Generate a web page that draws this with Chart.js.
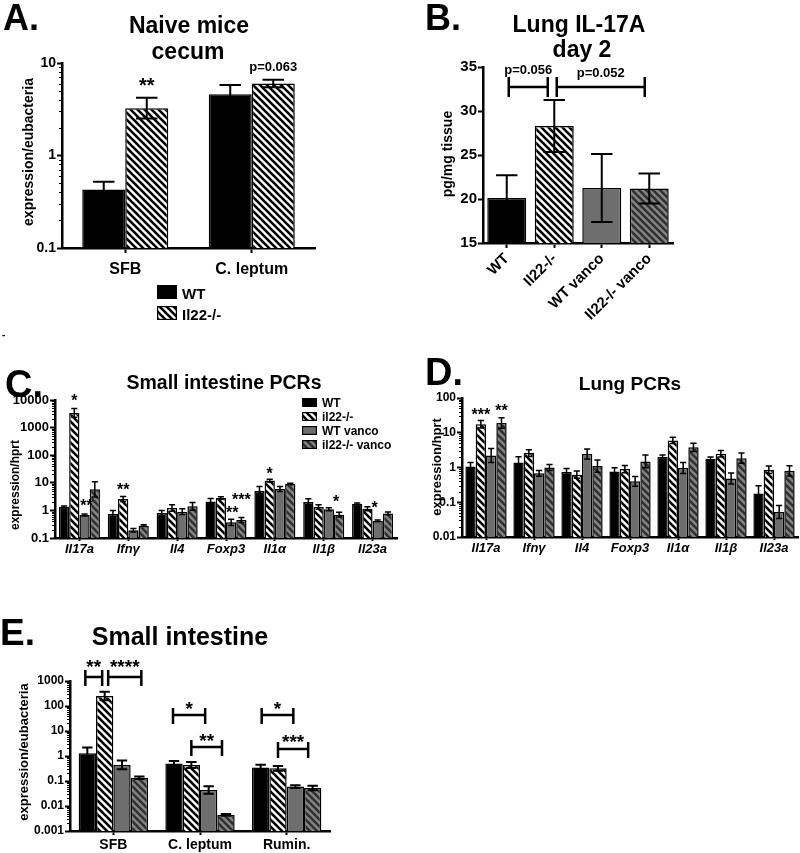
<!DOCTYPE html>
<html>
<head>
<meta charset="utf-8">
<script src="https://cdn.jsdelivr.net/npm/chart.js@4.4.1/dist/chart.umd.min.js"></script>
<style>
  body { margin: 0; background: #fff; width: 800px; height: 853px; position: relative; overflow: hidden; font-family: 'Liberation Sans', Arial, sans-serif; }
  canvas { position: absolute; }
  .t { position: absolute; font-weight: bold; white-space: nowrap; color: #000; }
</style>
</head>
<body>
<canvas id="chartA" width="400" height="330" style="left:0;top:0"></canvas>
<canvas id="chartB" width="400" height="330" style="left:400px;top:0"></canvas>
<canvas id="chartC" width="400" height="240" style="left:0;top:330px"></canvas>
<canvas id="chartD" width="400" height="240" style="left:400px;top:330px"></canvas>
<canvas id="chartE" width="400" height="283" style="left:0;top:570px"></canvas>
<script>
// ---- data ----
// A: naive mice cecum
const categoriesA = ["SFB", "C. leptum"];
const seriesA = ["WT", "Il22-/-"];
const wtA = [0.43, 4.6];
const wtErrA = [0.52, 5.8];
const il22A = [3.25, 6.0];
const il22ErrA = [4.2, 6.6];
const yTicksA = [0.1, 1, 10];

// B: lung IL-17A day 2
const groupsB = ["WT", "Il22-/-", "WT vanco", "Il22-/- vanco"];
const meanB = [20.1, 28.3, 21.25, 21.2];
const errB = [22.7, 31.25, 25.1, 22.9];
const yTicksB = [15, 20, 25, 30, 35];

// C and D: PCRs
const genes = ["Il17a", "Ifnγ", "Il4", "Foxp3", "Il1α", "Il1β", "Il23a"];
const seriesC = ["WT", "il22-/-", "WT vanco", "il22-/- vanco"];
const wtC = [1.35, 0.74, 0.8, 2.1, 5.2, 2.0, 1.7];
const wtErrC = [1.45, 1.0, 1.0, 2.7, 7.4, 2.65, 1.85];
const il22C = [3400, 2.6, 1.22, 2.8, 12, 1.33, 1.15];
const il22ErrC = [4900, 3.2, 1.6, 3.1, 13.5, 1.6, 1.35];
const wtvC = [0.68, 0.19, 0.9, 0.37, 6.0, 1.1, 0.42];
const wtvErrC = [0.74, 0.22, 1.15, 0.48, 7.4, 1.25, 0.45];
const il22vC = [5.8, 0.28, 1.4, 0.45, 9.0, 0.7, 0.78];
const il22vErrC = [11, 0.3, 1.95, 0.55, 9.6, 0.85, 0.88];
const yTicksC = [0.1, 1, 10, 100, 1000, 10000];

const wtD = [1.07, 1.4, 0.74, 0.77, 2.0, 1.8, 0.18];
const wtErrD = [1.4, 2.05, 0.93, 0.98, 2.3, 2.0, 0.3];
const il22D = [17.5, 2.6, 0.62, 0.9, 6.0, 2.5, 0.86];
const il22ErrD = [22.5, 3.25, 0.79, 1.15, 7.4, 3.1, 1.1];
const wtvD = [2.2, 0.68, 2.45, 0.4, 0.97, 0.48, 0.052];
const wtvErrD = [3.5, 0.82, 3.4, 0.55, 1.4, 0.69, 0.08];
const il22vD = [19, 1.0, 1.1, 1.5, 3.8, 1.85, 0.8];
const il22vErrD = [27, 1.23, 1.65, 2.3, 5.0, 2.6, 1.12];
const yTicksD = [0.01, 0.1, 1, 10, 100];

// E: small intestine bacteria
const bacteriaE = ["SFB", "C. leptum", "Rumin."];
const wtE = [1.3, 0.5, 0.35];
const wtErrE = [2.2, 0.63, 0.45];
const il22E = [250, 0.44, 0.32];
const il22ErrE = [370, 0.58, 0.40];
const wtvE = [0.44, 0.044, 0.06];
const wtvErrE = [0.66, 0.062, 0.068];
const il22vE = [0.135, 0.0044, 0.052];
const il22vErrE = [0.152, 0.0048, 0.064];
const yTicksE = [0.001, 0.01, 0.1, 1, 10, 100, 1000];

// ---- styles ----
const FONT = "'Liberation Sans', Arial, sans-serif";
Chart.defaults.font.family = FONT;
Chart.defaults.color = "#000";
Chart.defaults.animation = false;

function hatch(bg, fg, step, lw) {
  const c = document.createElement("canvas");
  c.width = step; c.height = step;
  const x = c.getContext("2d");
  x.fillStyle = bg; x.fillRect(0, 0, step, step);
  x.strokeStyle = fg; x.lineWidth = lw;
  for (const o of [-step, 0, step]) {
    x.beginPath(); x.moveTo(o - 1, -1); x.lineTo(o + step + 1, step + 1); x.stroke();
  }
  return x.createPattern(c, "repeat");
}
const BLACK = "#000";
const GRAY = "#6e6e6e";
const HATCH = hatch("#fff", "#000", 7, 2.6);
const HATCH_GRAY = hatch("#858585", "#303030", 7, 2.6);

// ---- plugins ----
const errorBars = {
  id: "errorBars",
  afterDatasetsDraw(chart, args, opts) {
    const ctx = chart.ctx, y = chart.scales.y;
    const isLog = y.type === "logarithmic";
    ctx.save();
    ctx.strokeStyle = "#000";
    ctx.lineWidth = opts.width || 1.5;
    chart.data.datasets.forEach((ds, i) => {
      if (!ds.errHi) return;
      chart.getDatasetMeta(i).data.forEach((bar, j) => {
        const m = ds.data[j], hi = ds.errHi[j];
        const lo = isLog ? m * m / hi : 2 * m - hi;
        const cap = bar.width * (opts.cap || 0.5) / 2;
        const yh = y.getPixelForValue(hi);
        const yl = Math.min(y.getPixelForValue(lo), y.bottom);
        ctx.beginPath();
        ctx.moveTo(bar.x, yl); ctx.lineTo(bar.x, yh);
        ctx.moveTo(bar.x - cap, yh); ctx.lineTo(bar.x + cap, yh);
        if (yl < y.bottom - 2) { ctx.moveTo(bar.x - cap, yl); ctx.lineTo(bar.x + cap, yl); }
        ctx.stroke();
      });
    });
    ctx.restore();
  }
};

const marks = {
  id: "marks",
  afterDatasetsDraw(chart, args, opts) {
    const ctx = chart.ctx, y = chart.scales.y;
    ctx.save();
    ctx.fillStyle = "#000"; ctx.strokeStyle = "#000";
    ctx.textAlign = "center"; ctx.textBaseline = "middle";
    const put = (txt, x, cy, size) => {
      ctx.font = `bold ${size}px ${FONT}`;
      const star = /^\*+$/.test(txt);
      ctx.fillText(txt, x, cy + (star ? 0.25 * size : 0));
    };
    (opts.stars || []).forEach(s => {
      const ds = chart.data.datasets[s.ds];
      const bar = chart.getDatasetMeta(s.ds).data[s.cat];
      const top = y.getPixelForValue(ds.errHi[s.cat]);
      put(s.text, bar.x + (s.dx || 0), top - s.lift, s.size || opts.size);
    });
    (opts.brackets || []).forEach(b => {
      const p = chart.getDatasetMeta(b.from[0]).data[b.from[1]];
      const q = chart.getDatasetMeta(b.to[0]).data[b.to[1]];
      const x1 = p.x + b.da, x2 = q.x + b.db, yy = y.getPixelForValue(b.y);
      ctx.lineWidth = opts.lineWidth || 2.5;
      ctx.beginPath();
      ctx.moveTo(x1, yy - opts.tickUp); ctx.lineTo(x1, yy + opts.tickDown);
      ctx.moveTo(x1, yy); ctx.lineTo(x2, yy);
      ctx.moveTo(x2, yy - opts.tickUp); ctx.lineTo(x2, yy + opts.tickDown);
      ctx.stroke();
      put(b.text, (x1 + x2) / 2, yy - b.lift, b.size || opts.size);
    });
    ctx.restore();
  }
};

const boxLegend = {
  id: "boxLegend",
  afterDraw(chart, args, opts) {
    if (!opts.x) return;
    const ctx = chart.ctx;
    ctx.save();
    ctx.font = `bold ${opts.size}px ${FONT}`;
    ctx.textAlign = "left"; ctx.textBaseline = "alphabetic";
    chart.data.datasets.forEach((ds, i) => {
      const y0 = opts.y + i * opts.gap;
      ctx.fillStyle = ds.backgroundColor;
      ctx.fillRect(opts.x, y0, opts.w, opts.h);
      ctx.strokeStyle = "#000"; ctx.lineWidth = 1.2;
      ctx.strokeRect(opts.x + 0.6, y0 + 0.6, opts.w - 1.2, opts.h - 1.2);
      ctx.fillStyle = "#000";
      ctx.fillText(ds.label, opts.x + opts.w + opts.pad, y0 + opts.h);
    });
    ctx.restore();
  }
};

const minorTicks = {
  id: "minorTicks",
  afterDraw(chart) {
    const y = chart.scales.y;
    if (y.type !== "logarithmic") return;
    const ctx = chart.ctx;
    ctx.save();
    ctx.strokeStyle = "#000"; ctx.lineWidth = 1;
    for (let d = y.min; d < y.max * 0.99; d *= 10) {
      for (let k = 2; k < 10; k++) {
        const p = Math.round(y.getPixelForValue(k * d)) + 0.5;
        ctx.beginPath(); ctx.moveTo(y.right - 3, p); ctx.lineTo(y.right, p); ctx.stroke();
      }
    }
    ctx.restore();
  }
};

// ---- helpers ----
function bars(label, data, err, fill) {
  return { label, data, errHi: err, backgroundColor: fill, borderColor: "#000", borderWidth: 1.5 };
}

function yAxis(type, ticks, size, width) {
  return {
    type, min: ticks[0], max: ticks[ticks.length - 1],
    afterBuildTicks: s => { s.ticks = ticks.map(v => ({ value: v })); },
    afterFit: s => { s.width = width; },
    ticks: { callback: v => String(v), font: { size, weight: "bold" }, padding: 1, autoSkip: false },
    grid: { drawOnChartArea: false, tickLength: 5, tickWidth: 2, tickColor: "#000" },
    border: { color: "#000", width: 2.5 }
  };
}

function xAxis(size, height, tick, pad, extra) {
  return {
    type: "category",
    afterFit: s => { s.height = height; },
    ticks: Object.assign({ font: { size, weight: "bold" }, padding: pad, maxRotation: 0, autoSkip: false }, extra || {}),
    grid: { drawOnChartArea: false, offset: false, tickLength: tick, tickWidth: 2, tickColor: "#000" },
    border: { color: "#000", width: 2.5 }
  };
}

function base(padding) {
  return {
    responsive: false, devicePixelRatio: 1, animation: false,
    layout: { padding },
    plugins: { legend: { display: false }, tooltip: { enabled: false } }
  };
}

const allPlugins = [errorBars, marks, boxLegend, minorTicks];

// ---- A ----
const optA = base({ top: 63, right: 85, left: 0, bottom: 0 });
optA.scales = { x: xAxis(16, 82, 5, 7), y: yAxis("logarithmic", yTicksA, 14, 62) };
optA.plugins.errorBars = { width: 2, cap: 0.5 };
optA.plugins.marks = { size: 20, stars: [
  { ds: 1, cat: 0, text: "**", lift: 16 },
  { ds: 1, cat: 1, text: "p=0.063", lift: 12, size: 13 }
] };
optA.plugins.boxLegend = { x: 157, y: 285, w: 20, h: 14, gap: 21, pad: 5, size: 15 };
new Chart(document.getElementById("chartA"), {
  type: "bar",
  data: { labels: categoriesA, datasets: [
    bars(seriesA[0], wtA, wtErrA, BLACK),
    bars(seriesA[1], il22A, il22ErrA, HATCH)
  ] },
  options: Object.assign(optA, { datasets: { bar: { categoryPercentage: 0.68, barPercentage: 1 } } }),
  plugins: allPlugins
});

// ---- B ----
const optB = base({ top: 67, right: 127, left: 0, bottom: 0 });
optB.scales = {
  x: xAxis(15, 87, 5, 2, { minRotation: 45, maxRotation: 45 }),
  y: yAxis("linear", yTicksB, 15, 83)
};
optB.plugins.errorBars = { width: 2, cap: 0.55 };
optB.plugins.marks = { size: 13, lineWidth: 2.5, tickUp: 10, tickDown: 10, brackets: [
  { from: [0, 0], to: [0, 1], da: 2, db: -6.5, y: 32.73, text: "p=0.056", lift: 17 },
  { from: [0, 1], to: [0, 3], da: 2.5, db: -4.5, y: 32.73, text: "p=0.052", lift: 14 }
] };
new Chart(document.getElementById("chartB"), {
  type: "bar",
  data: { labels: groupsB, datasets: [
    bars("IL-17A", meanB, errB, [BLACK, HATCH, GRAY, HATCH_GRAY])
  ] },
  options: Object.assign(optB, { datasets: { bar: { categoryPercentage: 0.82, barPercentage: 1 } } }),
  plugins: allPlugins
});

// ---- C ----
const optC = base({ top: 70, right: 3, left: 0, bottom: 0 });
optC.scales = {
  x: xAxis(13, 32, 3, 1, { font: { size: 13, weight: "bold", style: "italic" } }),
  y: yAxis("logarithmic", yTicksC, 13, 55)
};
optC.plugins.errorBars = { width: 1.5, cap: 0.6 };
optC.plugins.marks = { size: 16, stars: [
  { ds: 1, cat: 0, text: "*", lift: 11 },
  { ds: 2, cat: 0, text: "**", lift: 11, dx: 2 },
  { ds: 1, cat: 1, text: "**", lift: 10 },
  { ds: 2, cat: 3, text: "**", lift: 10, dx: 1 },
  { ds: 3, cat: 3, text: "***", lift: 21 },
  { ds: 1, cat: 4, text: "*", lift: 9 },
  { ds: 3, cat: 5, text: "*", lift: 14, dx: -3 },
  { ds: 2, cat: 6, text: "*", lift: 15, dx: -3 }
] };
optC.plugins.boxLegend = { x: 302, y: 68, w: 15, h: 9, gap: 14, pad: 5, size: 12 };
new Chart(document.getElementById("chartC"), {
  type: "bar",
  data: { labels: genes, datasets: [
    bars(seriesC[0], wtC, wtErrC, BLACK),
    bars(seriesC[1], il22C, il22ErrC, HATCH),
    bars(seriesC[2], wtvC, wtvErrC, GRAY),
    bars(seriesC[3], il22vC, il22vErrC, HATCH_GRAY)
  ] },
  options: Object.assign(optC, { datasets: { bar: { categoryPercentage: 0.84, barPercentage: 1 } } }),
  plugins: allPlugins
});

// ---- D ----
const optD = base({ top: 68, right: 2, left: 0, bottom: 0 });
optD.scales = {
  x: xAxis(13, 33, 3, 1, { font: { size: 13, weight: "bold", style: "italic" } }),
  y: yAxis("logarithmic", yTicksD, 12, 62)
};
optD.plugins.errorBars = { width: 1.5, cap: 0.6 };
optD.plugins.marks = { size: 16, stars: [
  { ds: 1, cat: 0, text: "***", lift: 9 },
  { ds: 3, cat: 0, text: "**", lift: 10 }
] };
new Chart(document.getElementById("chartD"), {
  type: "bar",
  data: { labels: genes, datasets: [
    bars(seriesC[0], wtD, wtErrD, BLACK),
    bars(seriesC[1], il22D, il22ErrD, HATCH),
    bars(seriesC[2], wtvD, wtvErrD, GRAY),
    bars(seriesC[3], il22vD, il22vErrD, HATCH_GRAY)
  ] },
  options: Object.assign(optD, { datasets: { bar: { categoryPercentage: 0.86, barPercentage: 1 } } }),
  plugins: allPlugins
});

// ---- E ----
const optE = base({ top: 111, right: 70, left: 0, bottom: 0 });
optE.scales = { x: xAxis(14, 22, 4, 2), y: yAxis("logarithmic", yTicksE, 12, 70) };
optE.plugins.errorBars = { width: 2, cap: 0.6 };
optE.plugins.marks = { size: 19, lineWidth: 2.5, tickUp: 7, tickDown: 9, brackets: [
  { from: [0, 0], to: [1, 0], da: -2, db: -2.5, y: 1450, text: "**", lift: 14 },
  { from: [1, 0], to: [3, 0], da: 3.5, db: 2, y: 1450, text: "****", lift: 14 },
  { from: [0, 1], to: [2, 1], da: -1, db: -3.5, y: 43.6, text: "*", lift: 10 },
  { from: [1, 1], to: [3, 1], da: 0, db: -4, y: 2.3, text: "**", lift: 10 },
  { from: [0, 2], to: [2, 2], da: 1, db: -2, y: 43.6, text: "*", lift: 10 },
  { from: [1, 2], to: [3, 2], da: 0, db: -4.5, y: 1.9, text: "***", lift: 11 }
] };
new Chart(document.getElementById("chartE"), {
  type: "bar",
  data: { labels: bacteriaE, datasets: [
    bars(seriesC[0], wtE, wtErrE, BLACK),
    bars(seriesC[1], il22E, il22ErrE, HATCH),
    bars(seriesC[2], wtvE, wtvErrE, GRAY),
    bars(seriesC[3], il22vE, il22vErrE, HATCH_GRAY)
  ] },
  options: Object.assign(optE, { datasets: { bar: { categoryPercentage: 0.8, barPercentage: 1 } } }),
  plugins: allPlugins
});

// ---- page text ----
function text(str, x, baseline, size, align) {
  const d = document.createElement("div");
  d.className = "t";
  d.textContent = str;
  d.style.fontSize = size + "px";
  d.style.lineHeight = size + "px";
  d.style.top = (baseline - 0.8465 * size) + "px";
  d.style.left = x + "px";
  if (align === "center") d.style.transform = "translateX(-50%)";
  document.body.appendChild(d);
}
function vtext(str, cx, cy, size) {
  const d = document.createElement("div");
  d.className = "t";
  d.textContent = str;
  d.style.fontSize = size + "px";
  d.style.lineHeight = size + "px";
  d.style.left = cx + "px";
  d.style.top = cy + "px";
  d.style.transform = "translate(-50%, -50%) rotate(-90deg)";
  document.body.appendChild(d);
}

text("A.", 3, 30, 36);
text("Naive mice", 189, 33, 23, "center");
text("cecum", 188, 59, 23, "center");
vtext("expression/eubacteria", 28, 152, 14);

text("B.", 425, 30, 36);
text("Lung IL-17A", 579, 32, 23, "center");
text("day 2", 582, 57, 23, "center");
vtext("pg/mg tissue", 447, 154, 14);

text("-", 2, 338, 10);

text("C.", 5, 397, 38);
text("Small intestine PCRs", 224, 390, 19.5, "center");
vtext("expression/hprt", 15, 485, 12);

text("D.", 425, 385, 38);
text("Lung PCRs", 630, 390, 19, "center");
vtext("expression/hprt", 436, 467, 13);

text("E.", 0, 645, 37);
text("Small intestine", 180, 645, 25, "center");
vtext("expression/eubacteria", 23, 752, 13);
</script>
</body>
</html>
